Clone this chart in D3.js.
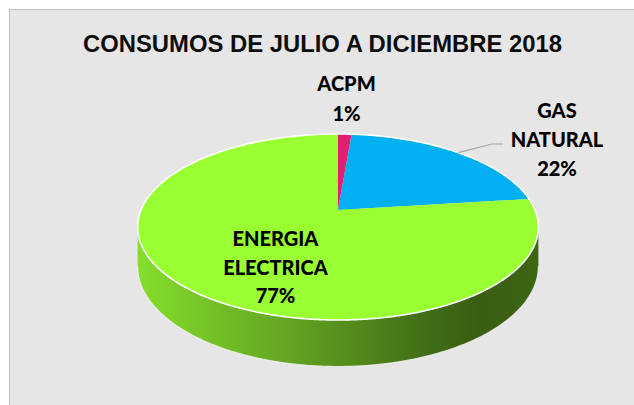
<!DOCTYPE html>
<html><head><meta charset="utf-8">
<script src="https://cdn.jsdelivr.net/npm/d3@7"></script>
<style>html,body{margin:0;padding:0;background:#fff;} svg{display:block}</style>
</head><body><svg id="c" width="634" height="405"></svg>
<script>
// ---- data ----
const categories = ["ACPM", "GAS NATURAL", "ENERGIA ELECTRICA"];
const values = [1.3, 21.7, 77.0];
const percentLabels = ["1%", "22%", "77%"];
const labelLines = [["ACPM"], ["GAS", "NATURAL"], ["ENERGIA", "ELECTRICA"]];
const topColors = ["#e3206f", "#00b0f0", "#99ff33"];
const chartTitle = "CONSUMOS DE JULIO A DICIEMBRE 2018";

// ---- layout ----
const W = 634, H = 405;
const geo = {cx: 338, cy: 210, a: 197, b: 89.9, D: 5.47, depth: 38};
const labelPos = [
  {x: 346.5, y: 91, dy: 30},
  {x: 557, y: 118, dy: 29},
  {x: 275.5, y: 246, dy: 28.5}
];
const svg = d3.select("#c");

function proj(theta, z) {
  const u = Math.sin(theta), v = -Math.cos(theta);
  const s = geo.D / (geo.D - v);
  return [geo.cx + geo.a * u * s, geo.cy + geo.b * v * s + z * geo.depth * s];
}
function arcPts(t0, t1, z) {
  const n = Math.max(2, Math.ceil(Math.abs(t1 - t0) / 0.01));
  return d3.range(n + 1).map(i => proj(t0 + (t1 - t0) * i / n, z));
}
const line = d3.line();

// background
svg.append("rect").attr("x", 0).attr("y", 0).attr("width", W).attr("height", H).attr("fill", "#ffffff");
svg.append("rect").attr("x", 9.5).attr("y", 9.5).attr("width", W + 10).attr("height", H + 10)
  .attr("fill", "#e6e6e6").attr("stroke", "#bfbfbf").attr("stroke-width", 1);

// title
svg.append("text").attr("x", 322.5).attr("y", 52).attr("text-anchor", "middle")
  .attr("font-family", "'Liberation Sans', Arial, sans-serif").attr("font-weight", "bold")
  .attr("font-size", 23).attr("textLength", 479).attr("lengthAdjust", "spacingAndGlyphs")
  .attr("fill", "#0d0d0d").text(chartTitle);

const slices = d3.pie().sort(null).value(d => d)(values);

// gradients for sides
const defs = svg.append("defs");
const gradStops = [[0, 0.13], [0.12, 0.2], [0.45, 0.4], [0.7, 0.56], [0.85, 0.63], [1, 0.6]];
topColors.forEach((c, i) => {
  const g = defs.append("linearGradient").attr("id", "side" + i)
    .attr("gradientUnits", "userSpaceOnUse")
    .attr("x1", geo.cx - geo.a * 1.02).attr("x2", geo.cx + geo.a * 1.02).attr("y1", 0).attr("y2", 0);
  gradStops.forEach(([o, t]) => {
    g.append("stop").attr("offset", o).attr("stop-color", d3.interpolateRgb(c, "#000")(t));
  });
});

// visible side range
const ta = Math.acos(-1 / geo.D), tb = 2 * Math.PI - ta;
const sideG = svg.append("g");
slices.forEach((s, i) => {
  const t0 = Math.max(s.startAngle, ta), t1 = Math.min(s.endAngle, tb);
  if (t1 <= t0) return;
  const pts = arcPts(t0, t1, 0).concat(arcPts(t1, t0, 1));
  sideG.append("path").attr("d", line(pts) + "Z").attr("fill", "url(#side" + i + ")");
});
// bottom rim highlight
svg.append("path").attr("d", line(arcPts(ta, tb, 1)))
  .attr("fill", "none").attr("stroke", "#f4f4f4").attr("stroke-width", 1.2).attr("opacity", 0.8);

// top face
const topG = svg.append("g");
slices.forEach((s, i) => {
  const pts = [[geo.cx, geo.cy]].concat(arcPts(s.startAngle, s.endAngle, 0));
  topG.append("path").attr("d", line(pts) + "Z").attr("fill", topColors[i]);
});
svg.append("path").attr("d", line(arcPts(0, 2 * Math.PI, 0)) + "Z")
  .attr("fill", "none").attr("stroke", "#ffffff").attr("stroke-width", 1.6);

// leader line for gas
const gasMid = (slices[1].startAngle + slices[1].endAngle) / 2;
const lp0 = proj(gasMid, 0);
svg.append("path").attr("d", line([lp0, [492, 144], [503, 144]]))
  .attr("fill", "none").attr("stroke", "#a6a6a6").attr("stroke-width", 1.2);

// labels
const labG = svg.append("g").attr("font-family", "Lato, 'Open Sans', sans-serif")
  .attr("font-weight", 900).attr("font-size", 20).attr("fill", "#000").attr("text-anchor", "middle");
categories.forEach((c, i) => {
  const lines = labelLines[i].concat([percentLabels[i]]);
  const p = labelPos[i];
  lines.forEach((t, k) => {
    labG.append("text").attr("x", p.x).attr("y", p.y + k * p.dy).text(t);
  });
});
</script></body></html>
